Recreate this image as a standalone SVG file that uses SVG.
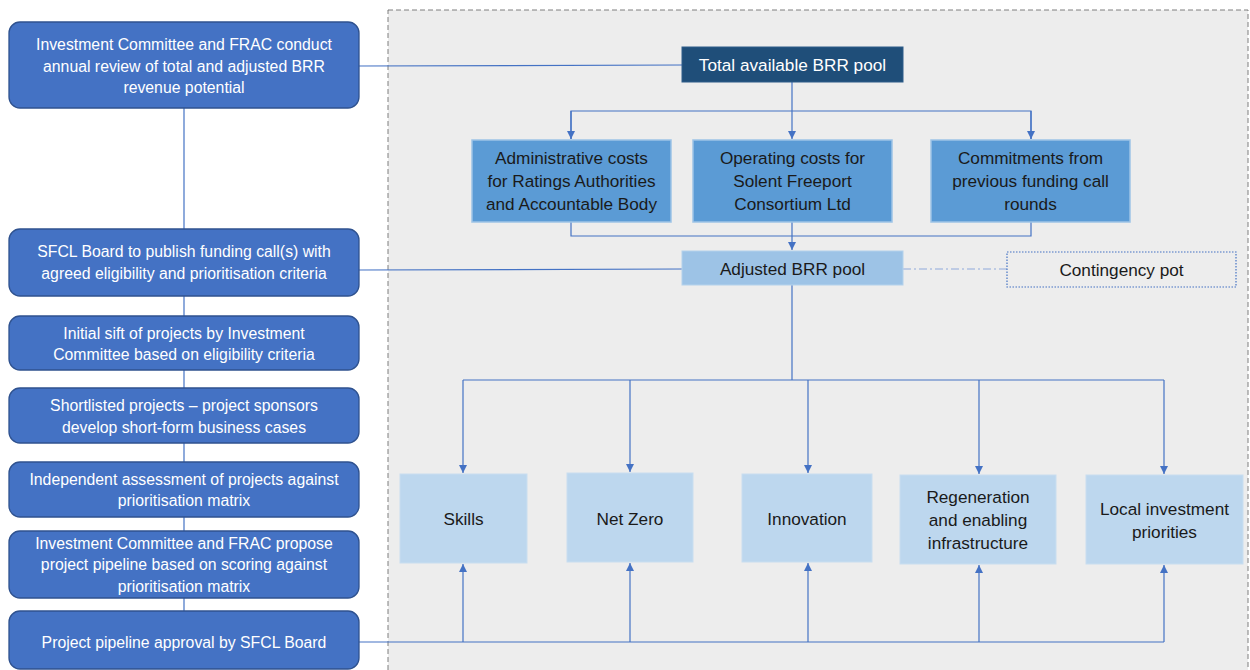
<svg xmlns="http://www.w3.org/2000/svg" width="1250" height="670" viewBox="0 0 1250 670">
<style>
.step{fill:#4472C4;stroke:#2F528F;stroke-width:1.3}
.st{fill:#fff;font-family:"Liberation Sans",Arial,sans-serif;font-size:15.8px;text-anchor:middle}
.dk{fill:#1a1a1a;font-family:"Liberation Sans",Arial,sans-serif;font-size:17.2px;text-anchor:middle}
.mid{fill:#5B9BD5;stroke:#9DC3E6;stroke-width:1.5}
.pr{fill:#BDD7EE;stroke:#C9DEF0;stroke-width:1}
.ln{fill:none;stroke:#4472C4;stroke-width:1.2}
</style>
<defs>
<marker id="ah" viewBox="0 0 10 10" refX="10" refY="5" markerWidth="8" markerHeight="8" markerUnits="userSpaceOnUse" orient="auto"><path d="M0,0 L10,5 L0,10 z" fill="#4472C4"/></marker>
</defs>
<rect x="0" y="0" width="1250" height="670" fill="#fff"/>
<rect id="panel" x="388" y="10" width="860" height="670" fill="#EDEDED" stroke="#7F7F7F" stroke-width="1" stroke-dasharray="5,3"/>

<g id="connectors">
<line class="ln" x1="184" y1="108" x2="184" y2="612"/>
<line class="ln" x1="359" y1="66" x2="682" y2="65"/>
<line class="ln" x1="359" y1="270" x2="682" y2="269"/>
<line class="ln" x1="792" y1="82" x2="792" y2="111"/>
<polyline class="ln" points="571,139 571,111 1031,111 1031,139"/>
<line class="ln" x1="571" y1="111" x2="571" y2="139" marker-end="url(#ah)"/>
<line class="ln" x1="792" y1="111" x2="792" y2="139" marker-end="url(#ah)"/>
<line class="ln" x1="1031" y1="111" x2="1031" y2="139" marker-end="url(#ah)"/>
<polyline class="ln" points="571,222 571,236 1031,236 1031,222"/>
<line class="ln" x1="792" y1="222" x2="792" y2="250" marker-end="url(#ah)"/>
<line x1="903" y1="269" x2="1007" y2="269" stroke="#8FAADC" stroke-width="1.2" stroke-dasharray="8,3,2,3"/>
<line class="ln" x1="792" y1="285" x2="792" y2="380"/>
<line class="ln" x1="463" y1="380" x2="1164" y2="380"/>
<line class="ln" x1="463" y1="380" x2="463" y2="473" marker-end="url(#ah)"/>
<line class="ln" x1="630" y1="380" x2="630" y2="472" marker-end="url(#ah)"/>
<line class="ln" x1="808" y1="380" x2="808" y2="473" marker-end="url(#ah)"/>
<line class="ln" x1="979" y1="380" x2="979" y2="474" marker-end="url(#ah)"/>
<line class="ln" x1="1164" y1="380" x2="1164" y2="474" marker-end="url(#ah)"/>
<line class="ln" x1="359" y1="642" x2="1164" y2="642"/>
<line class="ln" x1="463" y1="642" x2="463" y2="564" marker-end="url(#ah)"/>
<line class="ln" x1="630" y1="642" x2="630" y2="563" marker-end="url(#ah)"/>
<line class="ln" x1="808" y1="642" x2="808" y2="563" marker-end="url(#ah)"/>
<line class="ln" x1="979" y1="642" x2="979" y2="565" marker-end="url(#ah)"/>
<line class="ln" x1="1164" y1="642" x2="1164" y2="565" marker-end="url(#ah)"/>
</g>

<g id="step1"><rect class="step" x="9" y="22" width="350" height="86" rx="11"/>
<text class="st" x="184" y="50">Investment Committee and FRAC conduct</text>
<text class="st" x="184" y="71.5">annual review of total and adjusted BRR</text>
<text class="st" x="184" y="93">revenue potential</text></g>
<g id="step2"><rect class="step" x="9" y="229" width="350" height="67" rx="11"/>
<text class="st" x="184" y="257">SFCL Board to publish funding call(s) with</text>
<text class="st" x="184" y="278.5">agreed eligibility and prioritisation criteria</text></g>
<g id="step3"><rect class="step" x="9" y="316" width="350" height="54" rx="11"/>
<text class="st" x="184" y="338.5">Initial sift of projects by Investment</text>
<text class="st" x="184" y="360">Committee based on eligibility criteria</text></g>
<g id="step4"><rect class="step" x="9" y="388" width="350" height="55" rx="11"/>
<text class="st" x="184" y="411">Shortlisted projects – project sponsors</text>
<text class="st" x="184" y="432.5">develop short-form business cases</text></g>
<g id="step5"><rect class="step" x="9" y="462" width="350" height="55" rx="11"/>
<text class="st" x="184" y="484.5">Independent assessment of projects against</text>
<text class="st" x="184" y="506">prioritisation matrix</text></g>
<g id="step6"><rect class="step" x="9" y="531" width="350" height="67" rx="11"/>
<text class="st" x="184" y="548.5">Investment Committee and FRAC propose</text>
<text class="st" x="184" y="570">project pipeline based on scoring against</text>
<text class="st" x="184" y="591.5">prioritisation matrix</text></g>
<g id="step7"><rect class="step" x="9" y="611" width="350" height="58" rx="11"/>
<text class="st" x="184" y="647.5">Project pipeline approval by SFCL Board</text></g>

<g id="total"><rect x="682" y="47" width="221" height="35" fill="#1F4E79" stroke="#2E5C8A" stroke-width="1"/>
<text class="dk" x="792.5" y="71" style="fill:#fff">Total available BRR pool</text></g>
<g id="admin"><rect class="mid" x="472" y="140" width="199" height="82"/>
<text class="dk" x="571.5" y="164">Administrative costs</text>
<text class="dk" x="571.5" y="187">for Ratings Authorities</text>
<text class="dk" x="571.5" y="210">and Accountable Body</text></g>
<g id="operating"><rect class="mid" x="693" y="140" width="199" height="82"/>
<text class="dk" x="792.5" y="164">Operating costs for</text>
<text class="dk" x="792.5" y="187">Solent Freeport</text>
<text class="dk" x="792.5" y="210">Consortium Ltd</text></g>
<g id="commitments"><rect class="mid" x="931" y="140" width="199" height="82"/>
<text class="dk" x="1030.5" y="164">Commitments from</text>
<text class="dk" x="1030.5" y="187">previous funding call</text>
<text class="dk" x="1030.5" y="210">rounds</text></g>
<g id="adjusted"><rect x="682" y="251" width="221" height="34" fill="#9DC3E6" stroke="#B4D2EC" stroke-width="1"/>
<text class="dk" x="792.5" y="274.5">Adjusted BRR pool</text></g>
<g id="contingency"><rect x="1007" y="252" width="229" height="35" fill="#EDEDED" stroke="#4472C4" stroke-width="1.2" stroke-dasharray="1.5,1.5"/>
<text class="dk" x="1121.5" y="275.5">Contingency pot</text></g>

<g id="skills"><rect class="pr" x="400" y="474" width="127" height="89"/>
<text class="dk" x="463.5" y="525">Skills</text></g>
<g id="netzero"><rect class="pr" x="567" y="473" width="126" height="89"/>
<text class="dk" x="630" y="524.5">Net Zero</text></g>
<g id="innovation"><rect class="pr" x="742" y="474" width="130" height="88"/>
<text class="dk" x="807" y="524.5">Innovation</text></g>
<g id="regeneration"><rect class="pr" x="900" y="475" width="156" height="89"/>
<text class="dk" x="978" y="503">Regeneration</text>
<text class="dk" x="978" y="526">and enabling</text>
<text class="dk" x="978" y="549">infrastructure</text></g>
<g id="local"><rect class="pr" x="1086" y="475" width="157" height="89"/>
<text class="dk" x="1164.5" y="515">Local investment</text>
<text class="dk" x="1164.5" y="538">priorities</text></g>
</svg>
